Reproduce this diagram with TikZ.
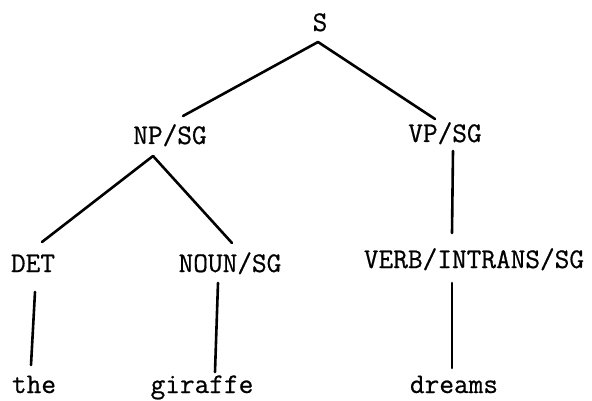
\documentclass[tikz,border=0pt]{standalone}
\usepackage{fontspec}
\newfontfamily\treefont{Latin Modern Mono}[FakeBold=0.6]
\usetikzlibrary{calc}
\begin{document}
\begin{tikzpicture}[x=1pt,y=-1pt,
  lab/.style={anchor=base,inner sep=0pt,font=\treefont\fontsize{28.5}{32}\selectfont},
  edge/.style={line width=2.6pt,line cap=round}]
\useasboundingbox (0,0) rectangle (592,401);
\node[lab] (S) at (320,31) {S};
\node[lab] (NP) at (170,144) {NP/SG};
\node[lab] (VP) at (445,142) {VP/SG};
\node[lab] (DET) at (33,272) {DET};
\node[lab] (NOUN) at (230,272) {NOUN/SG};
\node[lab] (VERB) at (474,268) {VERB/INTRANS/SG};
\node[lab] (the) at (34,393) {the};
\node[lab] (giraffe) at (202,393) {giraffe};
\node[lab] (dreams) at (454,393) {dreams};
\draw[edge] ($(S.base)+(-2,11)$) -- ($(NP.base)+(13,-28)$);
\draw[edge] ($(S.base)+(-2,11)$) -- ($(VP.base)+(-10,-23)$);
\draw[edge] ($(NP.base)+(-17,12)$) -- ($(DET.base)+(9,-30)$);
\draw[edge] ($(NP.base)+(-17,12)$) -- ($(NOUN.base)+(2,-29)$);
\draw[edge] ($(VP.base)+(8,9)$) -- ($(VERB.base)+(-22,-35)$);
\draw[edge] ($(DET.base)+(2,20)$) -- ($(the.base)+(-3,-28)$);
\draw[edge] ($(NOUN.base)+(-12,11)$) -- ($(giraffe.base)+(13,-21)$);
\draw[edge] ($(VERB.base)+(-22,15)$) -- ($(dreams.base)+(-2,-25)$);
\end{tikzpicture}
\end{document}
